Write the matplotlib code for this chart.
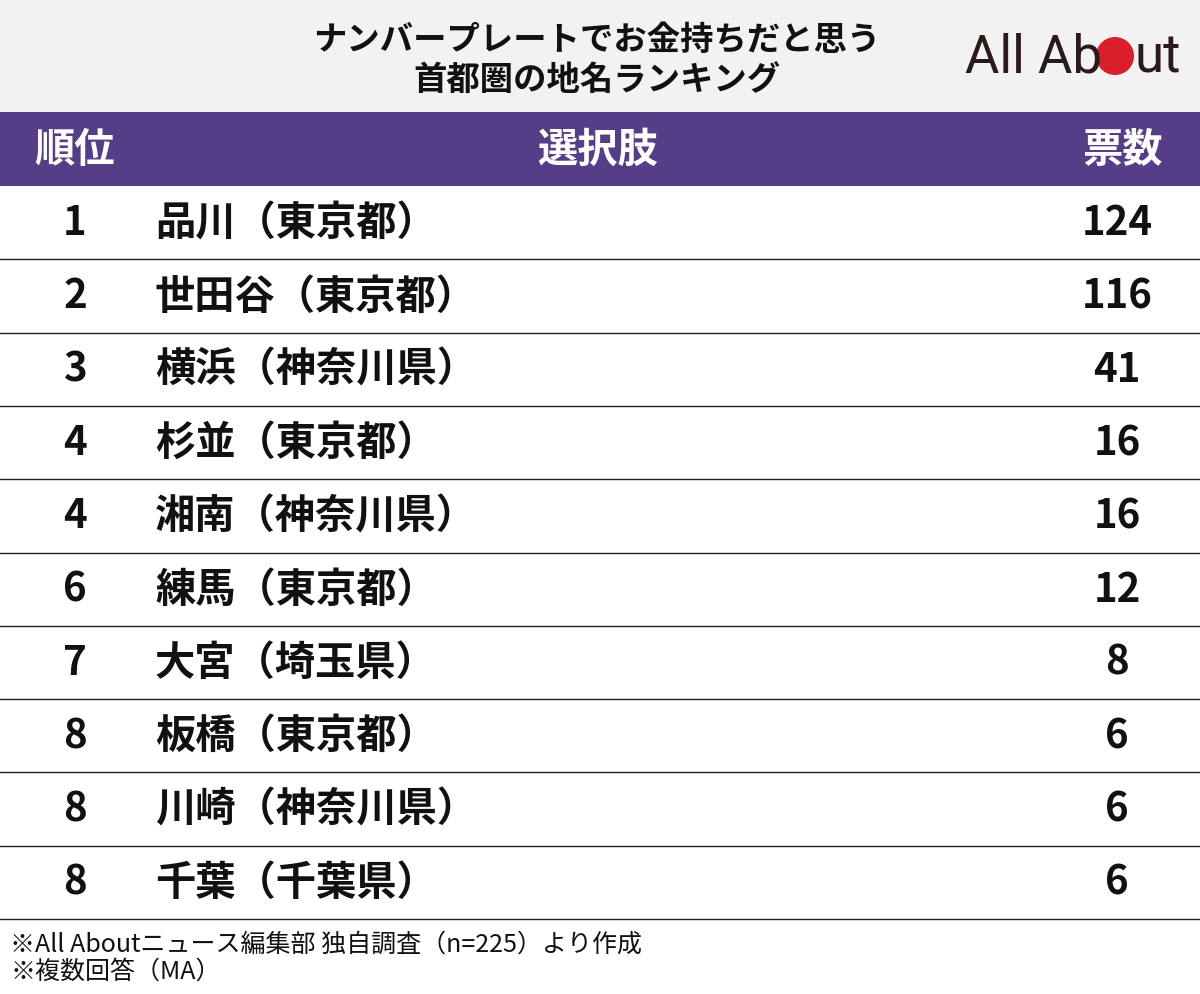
import matplotlib
matplotlib.use("Agg")
import matplotlib.pyplot as plt
from matplotlib.patches import Rectangle, Circle

title_lines = ["ナンバープレートでお金持ちだと思う", "首都圏の地名ランキング"]
headers = ["順位", "選択肢", "票数"]
ranks = ["1", "2", "3", "4", "4", "6", "7", "8", "8", "8"]
places = ["品川（東京都）", "世田谷（東京都）", "横浜（神奈川県）", "杉並（東京都）", "湘南（神奈川県）",
          "練馬（東京都）", "大宮（埼玉県）", "板橋（東京都）", "川崎（神奈川県）", "千葉（千葉県）"]
votes = [124, 116, 41, 16, 16, 12, 8, 6, 6, 6]
notes = ["※All Aboutニュース編集部 独自調査（n=225）より作成", "※複数回答（MA）"]

FONT = "Noto Sans CJK JP"
fig = plt.figure(figsize=(12, 9.95), dpi=100)
ax = fig.add_axes([0, 0, 1, 1])
ax.set_xlim(0, 1200); ax.set_ylim(995, 0); ax.axis("off")

ax.add_patch(Rectangle((0, 0), 1200, 113, color="#f2f2f2", lw=0))
ax.text(597, 40, title_lines[0], ha="center", va="center", fontsize=24, fontweight="bold", family=FONT, color="#111")
ax.text(597, 80, title_lines[1], ha="center", va="center", fontsize=24, fontweight="bold", family=FONT, color="#111")
# logo
ax.text(965, 58, "All Ab", ha="left", va="center", fontsize=38, family="Roboto", color="#2a1a1a")
ax.add_patch(Circle((1115, 57), 19, color="#d9202a", lw=0))
ax.text(1135, 58, "ut", ha="left", va="center", fontsize=38, family="Roboto", color="#2a1a1a")

ax.add_patch(Rectangle((0, 113), 1200, 74, color="#553e87", lw=0))
hy = 150
ax.text(75, hy, headers[0], ha="center", va="center", fontsize=29, fontweight="bold", family=FONT, color="white")
ax.text(598, hy, headers[1], ha="center", va="center", fontsize=29, fontweight="bold", family=FONT, color="white")
ax.text(1123, hy, headers[2], ha="center", va="center", fontsize=29, fontweight="bold", family=FONT, color="white")

top, rh = 187, 73.3
for i, (r, p, v) in enumerate(zip(ranks, places, votes)):
    y = top + rh * (i + 0.5)
    ax.text(75, y, r, ha="center", va="center", fontsize=29, fontweight="bold", family=FONT, color="#111")
    ax.text(155, y, p, ha="left", va="center", fontsize=29, fontweight="bold", family=FONT, color="#111")
    ax.text(1117, y, str(v), ha="center", va="center", fontsize=29, fontweight="bold", family=FONT, color="#111")
    ax.plot([0, 1200], [top + rh * (i + 1)] * 2, color="#222", lw=1)

ax.text(10, 945, notes[0], ha="left", va="center", fontsize=18, family=FONT, color="#111")
ax.text(10, 972, notes[1], ha="left", va="center", fontsize=18, family=FONT, color="#111")
fig.savefig("out.png", dpi=100)
